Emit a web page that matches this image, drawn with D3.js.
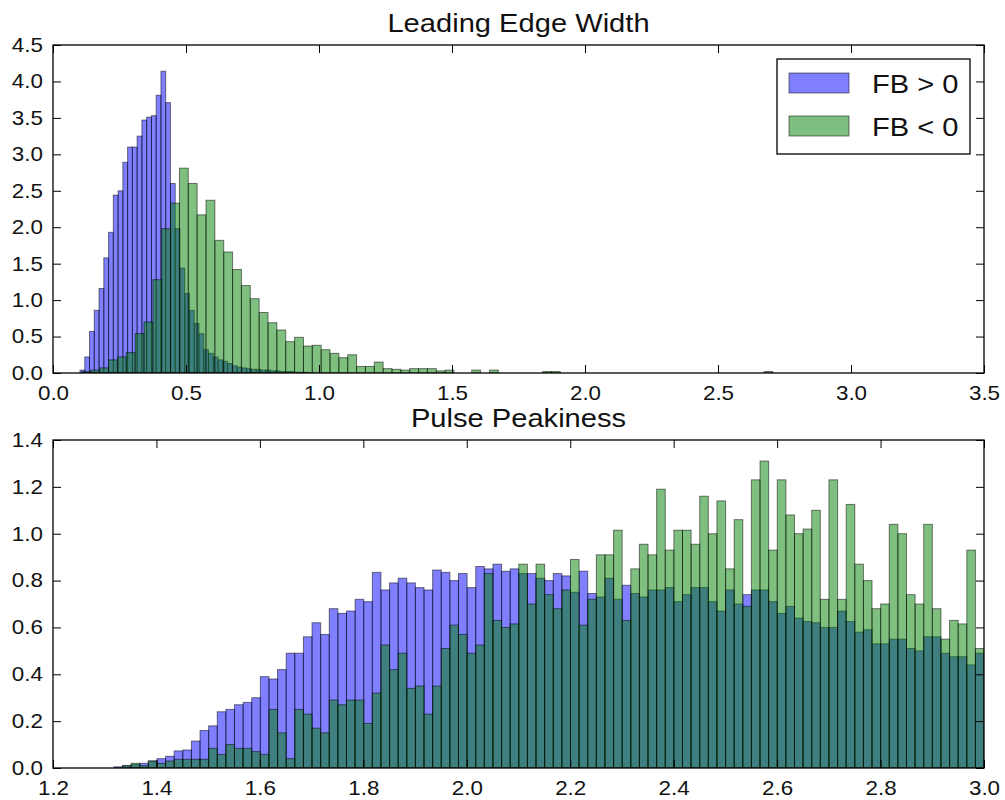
<!DOCTYPE html>
<html>
<head>
<meta charset="utf-8">
<script src="https://cdn.jsdelivr.net/npm/d3@7"></script>
<style>
    body { margin: 0; background: #fff; }
    svg { display: block; font-family: "Liberation Sans", Arial, sans-serif; }
</style>
</head>
<body>
<svg id="chart" width="1005" height="800"></svg>
<script>
// ---- data (normalised histograms) ----
var seriesNames = ["FB > 0", "FB < 0"]
var colors = ["#0000ff", "#008000"]

// Leading Edge Width
var lewBlueStart = 0.1015, lewBlueWidth = 0.0179
var lewBlue = [
    0.04, 0.22, 0.57, 0.86, 1.16, 1.58, 1.93, 2.44, 2.50, 2.89,
    3.10, 3.10, 3.25, 3.47, 3.51, 3.53, 3.81, 4.14, 3.71, 2.60,
    1.98, 1.44, 1.09, 0.86, 0.68, 0.54, 0.32, 0.27, 0.22, 0.18,
    0.16, 0.13, 0.10, 0.08, 0.07, 0.06, 0.05, 0.05, 0.04, 0.04,
    0.03, 0.03, 0.02, 0.02, 0.02, 0.01, 0.01, 0.01
]
var lewGreenStart = 0.109, lewGreenWidth = 0.0333
var lewGreen = [
    0.02, 0.04, 0.07, 0.18, 0.22, 0.28, 0.54, 0.70, 1.28, 1.98,
    2.33, 2.81, 2.60, 2.17, 2.37, 1.82, 1.66, 1.42, 1.20, 1.02,
    0.83, 0.69, 0.59, 0.43, 0.49, 0.37, 0.38, 0.32, 0.27, 0.21,
    0.25, 0.09, 0.09, 0.15, 0.06, 0.05, 0.04, 0.06, 0.06, 0.06,
    0.03, 0.04, 0, 0, 0.04, 0, 0.04, 0, 0, 0,
    0, 0, 0.02, 0.02, 0, 0, 0, 0, 0, 0,
    0, 0, 0, 0, 0, 0, 0, 0, 0, 0,
    0, 0, 0, 0, 0, 0, 0, 0.02
]
var lewXTicks = [0.0, 0.5, 1.0, 1.5, 2.0, 2.5, 3.0, 3.5]
var lewYTicks = [0.0, 0.5, 1.0, 1.5, 2.0, 2.5, 3.0, 3.5, 4.0, 4.5]

// Pulse Peakiness
var ppStart = 1.3177, ppWidth = 0.016657
var ppBlue = [
    0.005, 0.01, 0.015, 0.02, 0.03, 0.04, 0.05,
    0.073, 0.077, 0.115, 0.16, 0.18, 0.24, 0.25, 0.27, 0.28, 0.30,
    0.39, 0.38, 0.42, 0.49, 0.49, 0.56, 0.62, 0.57, 0.68, 0.66,
    0.67, 0.72, 0.71, 0.835, 0.76, 0.79, 0.81, 0.79, 0.77, 0.76,
    0.845, 0.835, 0.80, 0.83, 0.77, 0.86, 0.85, 0.87, 0.84, 0.85,
    0.83, 0.83, 0.81, 0.80, 0.83, 0.82, 0.75, 0.84, 0.745, 0.73,
    0.81, 0.72, 0.78, 0.745, 0.73, 0.76, 0.76, 0.77, 0.71, 0.74,
    0.77, 0.77, 0.71, 0.67, 0.76, 0.70, 0.74, 0.76, 0.76, 0.71,
    0.66, 0.69, 0.64, 0.625, 0.62, 0.60, 0.60, 0.67, 0.625, 0.58,
    0.59, 0.53, 0.53, 0.55, 0.55, 0.51, 0.50, 0.56, 0.56, 0.49,
    0.475, 0.475, 0.44, 0.49
]
var ppGreen = [
    0, 0.01, 0.02, 0.01, 0.03, 0.02, 0.03,
    0.037, 0.037, 0.037, 0.037, 0.084, 0.058, 0.10, 0.084, 0.084, 0.07,
    0.058, 0.25, 0.15, 0.04, 0.25, 0.23, 0.17, 0.15, 0.29, 0.27,
    0.29, 0.29, 0.19, 0.32, 0.525, 0.42, 0.49, 0.34, 0.35, 0.23,
    0.35, 0.51, 0.61, 0.57, 0.49, 0.525, 0.83, 0.63, 0.60, 0.615,
    0.87, 0.70, 0.87, 0.74, 0.68, 0.76, 0.89, 0.61, 0.72, 0.91,
    0.91, 1.015, 0.63, 0.85, 0.955, 0.91, 1.19, 0.93, 1.015, 1.015,
    0.955, 1.16, 1.00, 1.14, 0.85, 1.06, 0.69, 1.23, 1.31, 0.93,
    1.23, 1.08, 1.00, 1.02, 1.10, 0.72, 1.23, 0.72, 1.125, 0.87,
    0.80, 0.68, 0.70, 1.04, 1.00, 0.74, 0.70, 1.04, 0.68, 0.55,
    0.63, 0.615, 0.93, 0.51
]
var ppXTicks = [1.2, 1.4, 1.6, 1.8, 2.0, 2.2, 2.4, 2.6, 2.8, 3.0]
var ppYTicks = [0.0, 0.2, 0.4, 0.6, 0.8, 1.0, 1.2, 1.4]

// ---- layout ----
var svg = d3.select("#chart")
var left = 53, plotW = 931, plotH = 328
var tickLen = 8
var textStretch = 1.12   // glyphs in the picture are a bit wide
var fmt = d3.format(".1f")

drawPanel({
    top: 45,
    title: "Leading Edge Width",
    xDomain: [0, 3.5], yDomain: [0, 4.5],
    xTicks: lewXTicks, yTicks: lewYTicks,
    series: [
        {start: lewBlueStart, width: lewBlueWidth, values: lewBlue, color: colors[0]},
        {start: lewGreenStart, width: lewGreenWidth, values: lewGreen, color: colors[1]}
    ],
    legend: true
})

drawPanel({
    top: 440,
    title: "Pulse Peakiness",
    xDomain: [1.2, 3.0], yDomain: [0, 1.4],
    xTicks: ppXTicks, yTicks: ppYTicks,
    series: [
        {start: ppStart, width: ppWidth, values: ppBlue, color: colors[0]},
        {start: ppStart, width: ppWidth, values: ppGreen, color: colors[1]}
    ],
    legend: false
})

function drawPanel(p) {
    var g = svg.append("g").attr("transform", "translate(" + left + "," + p.top + ")")
    var x = d3.scaleLinear().domain(p.xDomain).range([0, plotW])
    var y = d3.scaleLinear().domain(p.yDomain).range([plotH, 0])

    var clipId = "clip" + p.top
    g.append("clipPath").attr("id", clipId)
        .append("rect").attr("width", plotW).attr("height", plotH)

    var bars = g.append("g").attr("clip-path", "url(#" + clipId + ")")
    p.series.forEach(function (s) {
        var bins = s.values.map(function (v, i) {
            return {x0: s.start + i * s.width, x1: s.start + (i + 1) * s.width, v: v}
        }).filter(function (d) { return d.v > 0 })

        bars.append("g").selectAll("rect").data(bins).enter().append("rect")
            .attr("x", function (d) { return x(d.x0) })
            .attr("width", function (d) { return x(d.x1) - x(d.x0) })
            .attr("y", function (d) { return y(d.v) })
            .attr("height", function (d) { return y(0) - y(d.v) })
            .attr("fill", s.color).attr("fill-opacity", 0.5)
            .attr("stroke", "#000").attr("stroke-opacity", 0.5).attr("stroke-width", 1)
    })

    // ticks on all four sides, pointing in
    var xb = g.append("g").attr("transform", "translate(0," + plotH + ")")
        .call(d3.axisBottom(x).tickValues(p.xTicks).tickSize(-tickLen).tickPadding(13).tickFormat(fmt))
    var xt = g.append("g")
        .call(d3.axisTop(x).tickValues(p.xTicks).tickSize(-tickLen).tickFormat(""))
    var yl = g.append("g")
        .call(d3.axisLeft(y).tickValues(p.yTicks).tickSize(-tickLen).tickPadding(9).tickFormat(fmt))
    var yr = g.append("g").attr("transform", "translate(" + plotW + ",0)")
        .call(d3.axisRight(y).tickValues(p.yTicks).tickSize(-tickLen).tickFormat(""))

    ;[xb, xt, yl, yr].forEach(function (a) {
        a.select(".domain").remove()
        a.attr("font-size", 20).attr("font-family", null)
        a.selectAll("line").attr("stroke", "#000").attr("stroke-width", 1)
        a.selectAll("text").attr("fill", "#111")
            .attr("transform", "scale(" + textStretch + ",1)")
    })

    g.append("rect").attr("width", plotW).attr("height", plotH)
        .attr("fill", "none").attr("stroke", "#000").attr("stroke-width", 1.3)

    g.append("text")
        .attr("transform", "translate(" + (plotW / 2) + ",-13) scale(" + textStretch + ",1)")
        .attr("text-anchor", "middle").attr("font-size", 26).attr("fill", "#111")
        .text(p.title)

    if (p.legend) addLegend(g)
}

function addLegend(g) {
    var lg = g.append("g").attr("transform", "translate(724,14)")
    lg.append("rect").attr("width", 193).attr("height", 95)
        .attr("fill", "#fff").attr("stroke", "#000").attr("stroke-width", 1.3)

    seriesNames.forEach(function (name, i) {
        var rowY = 14 + i * 43
        lg.append("rect").attr("x", 12).attr("y", rowY).attr("width", 60).attr("height", 20)
            .attr("fill", colors[i]).attr("fill-opacity", 0.5)
            .attr("stroke", "#000").attr("stroke-opacity", 0.5).attr("stroke-width", 1)
        lg.append("text")
            .attr("transform", "translate(95," + (rowY + 20) + ") scale(" + textStretch + ",1)")
            .attr("font-size", 26).attr("fill", "#111")
            .text(name)
    })
}
</script>
</body>
</html>
